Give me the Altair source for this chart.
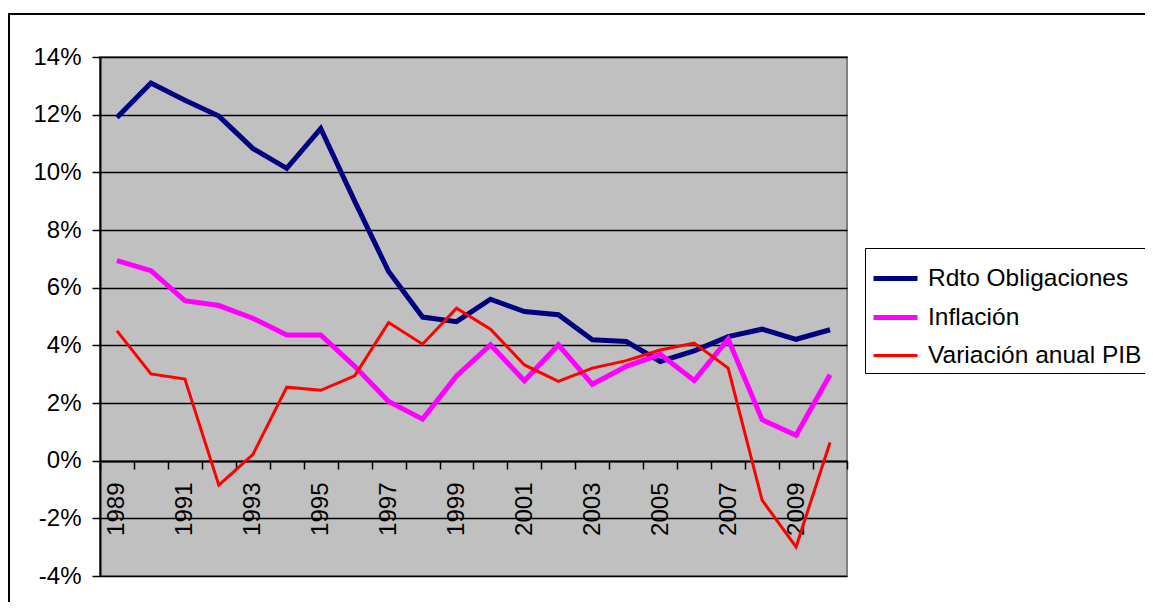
import altair as alt
import pandas as pd

years = list(range(1989, 2011))
rdto = [11.9, 13.1, 12.5, 11.95, 10.83, 10.14, 11.52, 9.0, 6.56, 4.98, 4.82,
        5.6, 5.17, 5.06, 4.19, 4.13, 3.44, 3.81, 4.3, 4.56, 4.21, 4.54]
inflacion = [6.94, 6.59, 5.55, 5.38, 4.94, 4.36, 4.36, 3.27, 2.05, 1.44, 2.94,
             4.02, 2.77, 4.02, 2.65, 3.27, 3.69, 2.78, 4.22, 1.42, 0.88, 2.98]
pib = [4.5, 3.01, 2.83, -0.85, 0.21, 2.55, 2.44, 2.94, 4.79, 4.04, 5.29,
       4.56, 3.32, 2.75, 3.21, 3.47, 3.84, 4.08, 3.21, -1.37, -2.99, 0.63]
series_names = ["Rdto Obligaciones", "Inflación", "Variación anual PIB"]
series_colors = ["#000080", "#FF00FF", "#FF0000"]
series_widths = [5, 5, 3]
y_ticks = [-4, -2, 0, 2, 4, 6, 8, 10, 12, 14]

rows = []
for name, vals in zip(series_names, [rdto, inflacion, pib]):
    for yr, v in zip(years, vals):
        rows.append({"year": yr, "value": v, "serie": name})
df = pd.DataFrame(rows)

FONT = "Liberation Sans"
W, H = 747, 519

one = pd.DataFrame({"a": [0]})
frame = alt.Chart(one).mark_rect(
    fillOpacity=0, stroke="black", strokeWidth=2, clip=False
).encode(
    x=alt.value(-91), x2=alt.value(1100), y=alt.value(-43), y2=alt.value(600)
)

lines = alt.Chart(df).mark_line(strokeJoin="miter", strokeCap="butt").encode(
    x=alt.X("year:O", scale=alt.Scale(type="band", paddingInner=0, paddingOuter=0),
            axis=alt.Axis(title=None, offset=-115, tickBand="extent",
                          labelAngle=-90, labelFontSize=24, labelFont=FONT,
                          labelColor="black", tickColor="black", tickSize=8,
                          tickWidth=1.5, domainColor="black", domainWidth=2,
                          labelPadding=13, labelOverlap=False,
                          labelExpr="datum.value % 2 == 1 ? datum.label : ''",
                          grid=False)),
    y=alt.Y("value:Q", scale=alt.Scale(domain=[-4, 14], nice=False, zero=False),
            axis=alt.Axis(title=None, values=y_ticks, labelExpr="datum.value + '%'",
                          labelFontSize=24, labelFont=FONT, labelColor="black",
                          tickColor="black", tickSize=8, tickWidth=1.5,
                          domainColor="black", domainWidth=2, labelPadding=11,
                          grid=True, gridColor="black", gridWidth=1.5)),
    color=alt.Color("serie:N",
                    scale=alt.Scale(domain=series_names, range=series_colors),
                    legend=alt.Legend(title=None, orient="none", legendX=765, legendY=191,
                                      labelFontSize=24.5, labelFont=FONT, labelColor="black",
                                      symbolType="stroke", symbolSize=1936,
                                      labelOffset=8, rowPadding=3, padding=6,
                                      strokeColor="black", fillColor="white",
                                      labelLimit=600,
                                      labelExpr="datum.label + '          '")),
    strokeWidth=alt.StrokeWidth("serie:N",
                                scale=alt.Scale(type="ordinal", domain=series_names,
                                                range=series_widths),
                                legend=alt.Legend(title=None, orient="none", legendX=765,
                                                  legendY=191)),
    order=alt.Order("year:O"),
)

chart = alt.layer(frame, lines).properties(
    width=W, height=H,
    autosize=alt.AutoSizeParams(type="none"),
    padding={"left": 92, "top": 49, "right": 298, "bottom": 26},
    background="white",
).configure_view(
    fill="#C0C0C0", stroke="#808080", strokeWidth=2
)

chart.save("out.html", embed_options={"renderer": "svg", "actions": False})
